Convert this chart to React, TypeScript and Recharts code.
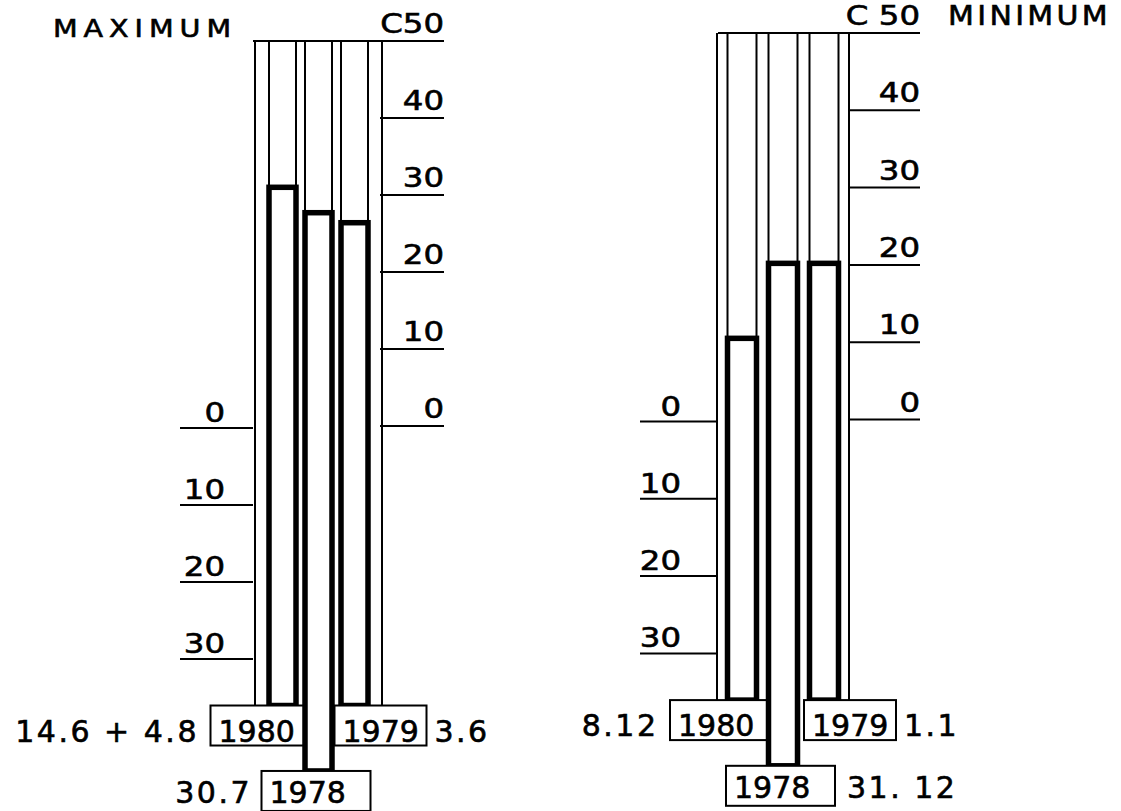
import React from 'react';
import { BarChart, Bar, XAxis, YAxis } from 'recharts';

// thermometer readings, in scale units (scale runs 30 below zero to 50 at the top)
const YEARS = ['1980', '1978', '1979'];
const MAX_VALUES = [31.0, 27.7, 26.4];
const MIN_VALUES = [10.5, 20.2, 20.2];
const MAX_DATES = ['14.6 + 4.8', '30.7', '3.6'];
const MIN_DATES = ['8.12', '31. 12', '1.1'];
const UPPER_TICKS = [0, 10, 20, 30, 40, 50];
const LOWER_TICKS = [0, -10, -20, -30];

// where the glass tubes end (scale units)
const SIDE_BOTTOM = -36.3;
const MIDDLE_BOTTOM = -44.8;

const FONT = "'DejaVu Sans', sans-serif";
const BOX_SPAN = [[-72, 26], [-57, 52], [-20, 72]];

// rough DejaVu Sans advance widths (em), used to stretch the scale labels a bit wider
const ADV: Record<string, number> = { ' ': 0.318, '.': 0.318, C: 0.698 };
const textWidth = (s: string, size: number) =>
  s.split('').reduce((w, ch) => w + (ADV[ch] ?? 0.636), 0) * size;

const ink = { fill: '#000', stroke: '#000', strokeWidth: 0.6, fontFamily: FONT };

type Panel = {
  title: string;
  topLabel: string;
  values: number[];
  dates: string[];
  left: number;
  width: number;
  margin: { top: number; right: number; bottom: number; left: number };
  lowerTickLen: number;
  upperAxisWidth: number;
  padding: { left: number; right: number };
  barSize: number;
  wallGap: number;
  plotW: number;
  upperTickLen: number;
  lowerLabelGap: number;
  middleDateSide: 'left' | 'right';
};

const MAX_PANEL: Panel = {
  title: 'MAXIMUM',
  topLabel: 'C50',
  values: MAX_VALUES,
  dates: MAX_DATES,
  left: 0,
  width: 560,
  margin: { top: 41, right: 110, bottom: 0, left: 253 },
  lowerTickLen: 73,
  upperAxisWidth: 70,
  padding: { left: 11, right: 8 },
  barSize: 27,
  wallGap: 14,
  plotW: 127,
  upperTickLen: 64,
  lowerLabelGap: 28,
  middleDateSide: 'left',
};

const MIN_PANEL: Panel = {
  title: 'MINIMUM',
  topLabel: 'C 50',
  values: MIN_VALUES,
  dates: MIN_DATES,
  left: 560,
  width: 561,
  margin: { top: 33, right: 201, bottom: 5, left: 158 },
  lowerTickLen: 78,
  upperAxisWidth: 70,
  padding: { left: 3.5, right: 5.5 },
  barSize: 29,
  wallGap: 10.5,
  plotW: 132,
  upperTickLen: 70,
  lowerLabelGap: 37,
  middleDateSide: 'right',
};

function ScaleLabel({ x, y, label }: { x: number; y: number; label: string }) {
  return (
    <text
      x={x}
      y={y}
      textAnchor="end"
      fontSize={27}
      textLength={textWidth(label, 27) * 1.2}
      lengthAdjust="spacingAndGlyphs"
      {...ink}
    >
      {label}
    </text>
  );
}

function makeTube(panel: Panel) {
  return (props: any) => {
    const { x, y, width, height, index, payload } = props;
    const [lo, hi] = payload.range;
    const ppu = height / (hi - lo);
    const yTop = y - (50 - hi) * ppu;
    const yBottom = y + height;
    const cx = x + width / 2;
    const boxL = cx + BOX_SPAN[index][0];
    const boxR = cx + BOX_SPAN[index][1];
    const isMiddle = index === 1;
    const wallX = index === 0 ? x - panel.wallGap : index === 2 ? x + width + panel.wallGap : null;
    const baseline = yBottom + (isMiddle ? 32 : 36);

    let dateX = boxR + 8;
    let anchor: 'start' | 'end' = 'start';
    if (index === 0) {
      dateX = boxL - 14;
      anchor = 'end';
    } else if (isMiddle && panel.middleDateSide === 'left') {
      dateX = boxL - 12;
      anchor = 'end';
    } else if (isMiddle) {
      dateX = boxR + 12;
    }

    return (
      <g>
        {wallX !== null && (
          <line x1={wallX} x2={wallX} y1={yTop} y2={yBottom} stroke="#000" strokeWidth={2} />
        )}
        <line x1={x} x2={x} y1={yTop} y2={y} stroke="#000" strokeWidth={2} />
        <line x1={x + width} x2={x + width} y1={yTop} y2={y} stroke="#000" strokeWidth={2} />
        <rect x={x} y={y} width={width} height={height} fill="#fff" stroke="#000" strokeWidth={5.5} />
        <rect x={boxL} y={yBottom} width={boxR - boxL} height={40} fill="#fff" stroke="#000" strokeWidth={2} />
        <text x={boxL + 8} y={baseline} fontSize={30} {...ink}>
          {payload.year}
        </text>
        <text
          x={anchor === 'end' ? dateX + 2.5 : dateX}
          y={baseline}
          textAnchor={anchor}
          fontSize={30}
          letterSpacing={2.5}
          {...ink}
        >
          {payload.date}
        </text>
      </g>
    );
  };
}

// one axis carries both scales: the upper one on the right edge, the lower one on the left edge
function makeTick(panel: Panel) {
  return (props: any) => {
    const { x, y, payload } = props;
    const v = payload.value;
    const leftEdge = x - panel.plotW;
    const end = x + panel.upperTickLen;
    const showUpper = UPPER_TICKS.includes(v);
    const showLower = LOWER_TICKS.includes(v);
    return (
      <g>
        {showUpper && (
          <g>
            <line x1={v === 50 ? leftEdge : x} x2={end} y1={y} y2={y} stroke="#000" strokeWidth={2} />
            <ScaleLabel x={end} y={y - 8} label={v === 50 ? panel.topLabel : String(v)} />
          </g>
        )}
        {showLower && (
          <g>
            <line x1={leftEdge - panel.lowerTickLen} x2={leftEdge} y1={y + 2} y2={y + 2} stroke="#000" strokeWidth={2} />
            <ScaleLabel x={leftEdge - panel.lowerLabelGap} y={y - 4} label={String(Math.abs(v))} />
          </g>
        )}
      </g>
    );
  };
}

function ThermoPanel({ panel }: { panel: Panel }) {
  const data = YEARS.map((year, i) => ({
    year,
    date: panel.dates[i],
    range: [i === 1 ? MIDDLE_BOTTOM : SIDE_BOTTOM, panel.values[i]],
  }));
  const allTicks = [...LOWER_TICKS.slice(1).reverse(), ...UPPER_TICKS];

  return (
    <div style={{ position: 'absolute', left: panel.left, top: 0 }}>
      <BarChart width={panel.width} height={811} data={data} margin={panel.margin}>
        <XAxis dataKey="year" hide padding={panel.padding} />
        <YAxis
          yAxisId="scale"
          orientation="right"
          width={panel.upperAxisWidth}
          type="number"
          domain={[-50, 50]}
          ticks={allTicks}
          interval={0}
          axisLine={false}
          tickLine={false}
          tickSize={0}
          tickMargin={0}
          tick={makeTick(panel)}
        />
        <Bar
          yAxisId="scale"
          dataKey="range"
          barSize={panel.barSize}
          isAnimationActive={false}
          shape={makeTube(panel)}
        />
      </BarChart>
    </div>
  );
}

export default function App() {
  return (
    <div style={{ position: 'absolute', left: 0, top: 0, width: 1121, height: 811, background: '#fff' }}>
      <ThermoPanel panel={MAX_PANEL} />
      <ThermoPanel panel={MIN_PANEL} />
      <svg width={1121} height={811} style={{ position: 'absolute', left: 0, top: 0, pointerEvents: 'none' }}>
        <text x={53} y={37} fontSize={24} letterSpacing={5} textLength={184} lengthAdjust="spacingAndGlyphs" {...ink}>
          {MAX_PANEL.title}
        </text>
        <text x={948} y={25} fontSize={27} letterSpacing={3} textLength={163} lengthAdjust="spacingAndGlyphs" {...ink}>
          {MIN_PANEL.title}
        </text>
      </svg>
    </div>
  );
}
